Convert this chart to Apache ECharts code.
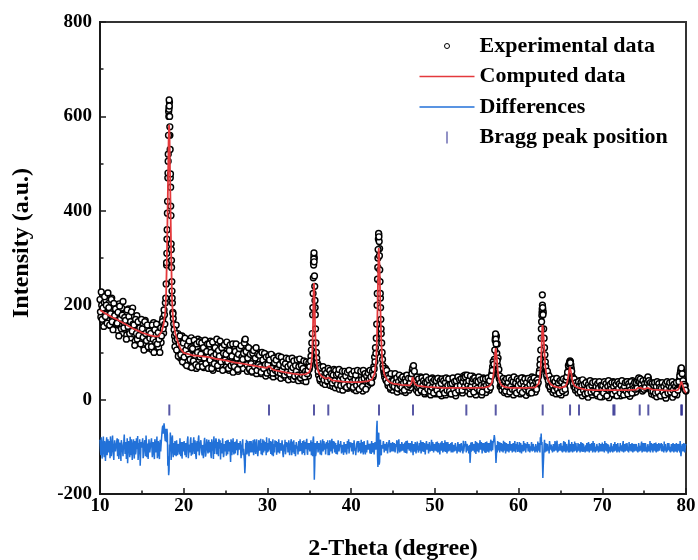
<!DOCTYPE html>
<html>
<head>
<meta charset="utf-8">
<script src="https://cdn.jsdelivr.net/npm/echarts@6/dist/echarts.min.js"></script>
<style>
html,body{margin:0;padding:0;background:#fff;}
#chart{width:698px;height:560px;}
</style>
</head>
<body>
<div id="chart"></div>
<script>
// ---- data ----
const xMin = 10, xMax = 80, xInterval = 10;
const yMin = -200, yMax = 800, yInterval = 200;

// experimental data, sampled every 0.1 degree from 10.00 to 80.00
const expStart = 10, expStep = 0.1;
const expIntensity = [
212,175,200,223,163,206,181,210,166,195,
168,205,157,188,215,170,160,197,183,150,
190,147,176,203,156,169,194,141,181,163,
149,183,137,170,192,143,158,131,176,194,
139,166,124,156,178,131,149,121,161,144,
127,159,113,146,168,119,149,134,109,157,
121,149,106,139,163,114,137,103,153,127,
111,144,159,121,149,172,141,180,205,245,
340,470,610,630,470,330,230,185,160,135,
125,158,110,140,98,130,88,121,135,84,
112,128,76,101,125,83,118,70,106,131,
88,115,72,123,97,66,110,128,80,102,
125,75,98,117,68,104,122,81,93,114,
70,108,124,79,97,62,113,88,119,74,
101,117,66,92,112,71,99,118,64,95,
110,70,96,113,62,88,107,75,101,58,
93,110,68,85,104,60,97,112,71,82,
100,66,108,126,115,88,60,95,104,63,
90,106,58,82,99,65,93,55,87,100,
62,84,97,55,78,92,60,86,50,81,
95,58,88,75,52,80,93,48,71,85,
55,77,89,50,68,82,45,73,86,52,
70,84,47,63,79,42,67,81,49,60,
76,43,62,80,48,58,73,40,66,78,
45,61,75,40,57,70,38,64,77,50,
65,74,92,120,180,290,300,195,120,88,
70,52,64,40,58,66,35,52,60,32,
48,62,38,58,55,30,50,60,28,45,
56,25,44,60,30,47,22,52,58,35,
20,48,57,28,42,55,24,46,33,53,
27,44,58,22,50,36,19,48,56,30,
45,25,52,40,18,55,33,47,24,58,
30,50,38,60,35,55,48,70,90,110,
130,200,300,350,320,215,140,100,72,60,
48,66,40,55,30,50,44,22,48,38,
20,45,52,25,40,16,48,35,22,50,
37,18,45,28,50,15,40,33,47,20,
42,25,48,62,70,55,35,45,20,40,
15,42,30,48,18,37,25,45,12,38,
28,44,14,35,40,10,33,46,20,30,
42,12,37,25,45,18,30,40,8,35,
22,44,28,10,38,33,15,41,26,36,
12,40,30,20,43,8,35,27,45,17,
38,22,47,14,50,32,52,25,44,18,
48,30,12,45,36,50,20,34,42,10,
30,44,18,36,25,42,10,32,46,22,
37,15,40,28,45,20,38,48,55,70,
62,85,125,136,98,72,52,44,28,40,
20,38,44,15,32,26,41,12,35,22,
40,18,30,45,10,36,24,42,16,33,
28,43,12,37,25,46,18,31,40,9,
35,22,44,14,38,27,48,20,33,41,
16,40,30,45,50,62,85,130,185,190,
150,110,80,62,48,55,30,45,22,38,
42,15,33,26,40,12,30,37,18,28,
35,10,28,40,20,32,15,38,45,55,
68,78,80,66,50,40,28,38,20,32,
36,14,30,40,18,27,8,34,22,38,
12,30,25,5,34,18,28,38,10,24,
32,15,26,36,8,30,20,35,14,27,
6,33,22,28,12,36,18,30,4,26,
34,16,24,38,10,29,21,35,13,31,
20,37,8,27,32,15,36,24,11,30,
38,18,26,7,33,22,40,14,28,35,
16,30,38,42,45,40,28,35,18,30,
22,38,28,40,44,46,34,22,30,12,
27,35,10,24,32,6,28,20,36,15,
30,8,25,34,18,29,3,26,33,14,
24,31,12,28,5,22,35,16,27,10,
25,32,42,55,66,62,45,38,24,30,
18
];

// experimental data between those, every 0.1 degree from 10.05 to 79.95
const expStartB = 10.05;
const expIntensityB = [
186,228,170,194,155,218,176,200,162,226,
195,158,182,212,165,148,204,178,192,160,
162,185,135,198,172,150,179,208,152,174,
168,128,190,155,176,140,165,186,145,160,
158,115,170,140,128,165,136,152,118,170,
150,132,105,165,140,125,158,112,145,130,
140,112,158,128,100,148,122,160,118,142,
128,100,152,135,165,150,190,160,215,285,
395,520,620,560,410,280,205,172,148,112,
140,105,128,92,118,135,95,112,80,120,
90,130,105,72,115,96,124,85,110,68,
108,82,126,94,74,118,100,70,122,90,
96,120,70,110,88,126,76,102,118,66,
118,84,100,66,122,92,76,110,96,128,
72,104,92,124,80,110,62,98,116,84,
96,122,80,66,104,116,72,92,118,76,
70,102,118,88,64,96,108,76,114,90,
85,98,120,128,102,74,88,110,66,96,
76,60,98,104,70,88,110,62,96,74,
94,70,58,100,84,66,98,74,90,56,
74,92,84,60,96,66,56,88,78,62,
84,64,58,92,74,56,90,62,80,70,
52,76,88,58,70,86,54,74,62,88,
68,82,50,72,60,84,52,70,86,46,
72,52,66,82,48,60,80,55,62,78,
70,82,105,140,225,305,240,150,100,78,
60,72,44,68,55,48,70,42,62,50,
56,40,66,48,62,42,55,35,52,64,
40,62,52,32,55,64,42,30,50,60,
44,32,60,50,26,58,40,62,30,48,
54,38,26,60,42,52,30,62,40,22,
34,60,42,28,62,45,55,22,50,40,
56,42,62,48,36,60,52,65,80,98,
160,255,340,335,250,170,120,85,66,55,
58,42,62,36,52,46,26,55,40,30,
40,28,55,36,46,24,38,52,30,44,
26,48,35,20,44,38,52,28,45,32,
35,45,55,66,72,60,42,30,48,26,
44,28,35,20,46,30,40,16,36,48,
36,22,42,30,18,44,26,38,14,42,
28,40,20,45,30,12,40,34,44,20,
40,14,36,46,20,30,44,18,32,12,
34,46,22,38,14,40,28,48,20,42,
30,44,20,38,46,28,48,36,52,30,
40,24,50,28,38,44,16,46,30,40,
24,38,48,20,42,30,16,44,28,36,
44,30,22,46,34,40,26,50,62,80,
75,105,130,134,118,88,64,50,38,30,
30,45,26,40,18,44,28,36,46,16,
28,42,22,38,48,20,35,14,44,30,
40,20,34,46,15,38,28,44,22,36,
26,45,18,32,42,14,38,30,46,24,
38,22,42,36,56,74,105,165,200,185,
130,95,70,52,60,40,50,28,42,34,
30,44,20,38,28,45,22,35,14,40,
24,38,18,44,30,22,42,48,58,72,
76,82,74,60,46,34,44,26,36,30,
22,38,28,16,36,30,42,20,32,12,
36,22,14,32,26,40,16,30,36,20,
18,38,28,12,34,24,38,6,30,22,
30,14,38,24,34,8,28,40,20,32,
22,36,12,28,36,18,32,8,38,24,
34,14,30,40,22,10,28,36,18,38,
12,34,28,20,38,14,30,24,36,22,
36,24,40,46,38,44,32,24,40,22,
34,26,42,36,48,40,28,36,18,34,
18,30,36,14,28,38,16,34,26,8,
24,36,16,28,10,34,22,38,14,30,
36,16,26,38,20,32,12,28,36,22,
20,38,50,60,64,55,40,32,28,20
];

// extra experimental points recorded on the steep flanks of the peaks [2-theta, intensity]
const expPeakPoints = [
[17.95,290],[17.98,310],[18.02,360],[18.07,420],[18.12,480],[18.14,505],[18.18,560],
[18.22,600],[18.24,615],[18.26,635],[18.28,622],[18.32,600],[18.34,578],[18.38,530],[18.42,478],
[18.44,450],[18.48,390],[18.52,318],[18.54,295],[18.58,250],[18.62,215],
[18.72,182],
[35.42,195],[35.48,258],[35.52,285],[35.54,298],[35.56,311],[35.58,292],[35.62,262],
[35.68,210],[35.72,180],
[43.12,225],[43.18,280],[43.22,318],[43.28,352],[43.32,345],
[43.38,305],[43.42,275],[43.48,225],[43.52,195],[43.58,150],
[57.22,130],[57.25,139],[57.28,128],[57.32,118],[57.45,82],
[62.72,150],[62.78,178],[62.82,192],[62.84,222],[62.88,195],[62.92,180],
[66.12,80],[66.18,78],
[79.45,67]
];

// computed (refined) profile [2-theta, intensity]
const calcPoints = [
[10,190],[10.5,184],[11,179],[11.5,174],[12,170],[12.5,165],[13,160],[13.5,155],[14,150],[14.5,146],[15,142],
[15.5,139],[16,136],[16.5,134],[17,134],[17.2,138],[17.4,146],[17.6,160],[17.8,185],[17.9,225],[18.0,310],
[18.1,430],[18.2,555],[18.25,582],[18.3,565],[18.4,440],[18.5,310],[18.6,215],[18.7,178],[18.8,160],[19.0,140],
[19.3,122],[19.6,108],[20,99],[21,94],[22,92],[23,90],[24,86],[25,83],[26,79],[27,76],[28,73],[29,70],[29.9,67],
[30.1,68],[30.2,71],[30.3,67],[30.6,64],[31,62],[32,58],[33,55],[34,53],[34.6,54],[35.0,58],[35.2,70],[35.35,95],
[35.45,160],[35.5,215],[35.55,247],[35.6,232],[35.65,190],[35.7,150],[35.8,100],[35.9,75],[36.0,64],[36.2,55],
[36.5,49],[37.0,44],[37.2,45],[37.3,47],[37.4,44],[37.7,41],[38,40],[39,38],[40,37],[41,37],[42,39],[42.5,43],
[42.8,55],[43.0,85],[43.1,140],[43.2,240],[43.27,310],[43.3,321],[43.33,318],[43.4,280],[43.5,190],[43.6,125],
[43.7,88],[43.8,67],[44.0,52],[44.3,42],[44.6,37],[45,34],[46,31],[47,30],[47.2,35],[47.35,48],[47.45,44],
[47.6,33],[48,29],[49,27],[50,26],[51,25],[52,25],[53,25],[54,25],[55,25],[56,26],[56.5,28],[56.8,35],[57.0,52],
[57.1,72],[57.2,98],[57.27,109],[57.32,106],[57.4,88],[57.5,64],[57.6,48],[57.8,35],[58.0,30],[58.3,27],[59,25],
[60,25],[61,25],[62,26],[62.4,34],[62.55,48],[62.65,70],[62.75,110],[62.82,150],[62.86,158],[62.92,150],[63.0,130],
[63.1,96],[63.2,70],[63.3,55],[63.5,42],[63.8,33],[64.2,28],[65,25],[65.6,28],[65.8,36],[65.95,50],[66.05,62],
[66.13,69],[66.2,66],[66.3,55],[66.4,43],[66.5,35],[66.7,29],[67.0,26],[67.2,27],[67.4,24],[68,21],[69,20],[70,20],
[71,20],[72,20],[73,20],[74,21],[74.3,25],[74.45,29],[74.6,25],[75.0,22],[75.4,25],[75.5,26],[75.65,23],[76,21],
[77,20],[78,19],[79,20],[79.2,25],[79.35,33],[79.45,38],[79.55,35],[79.7,25],[79.85,18],[80,14]
];

// difference curve (offset), every 0.1 degree from 10.00 to 80.00
const diffStart = 10, diffStep = 0.1;
const diffIntensity = [
-85,-118,-92,-110,-78,-122,-96,-105,-80,-115,
-100,-88,-124,-94,-108,-76,-117,-98,-86,-112,
-93,-120,-84,-106,-97,-130,-82,-110,-95,-74,
-115,-90,-104,-135,-88,-100,-79,-118,-96,-108,
-84,-125,-98,-110,-92,-77,-113,-101,-140,-90,
-106,-82,-119,-95,-108,-76,-122,-93,-104,-87,
-115,-96,-80,-110,-100,-126,-89,-105,-78,-113,
-98,-126,-85,-107,-70,-55,-74,-60,-88,-66,
-62,-140,-160,-95,-70,-128,-82,-110,-92,-118,
-96,-120,-84,-108,-92,-116,-80,-104,-125,-90,
-110,-86,-101,-122,-94,-78,-113,-99,-87,-119,
-92,-107,-80,-115,-98,-126,-88,-103,-76,-111,
-100,-84,-118,-93,-109,-81,-121,-97,-88,-114,
-85,-106,-95,-124,-90,-102,-78,-115,-99,-87,
-112,-94,-83,-108,-127,-92,-100,-80,-117,-96,
-88,-119,-101,-85,-110,-95,-132,-90,-105,-82,
-116,-98,-89,-107,-84,-120,-94,-103,-86,-111,
-97,-118,-108,-156,-92,-85,-110,-96,-120,-88,
-102,-90,-113,-86,-106,-97,-115,-84,-100,-109,
-91,-110,-83,-104,-118,-95,-87,-108,-99,-80,
-112,-93,-82,-106,-115,-89,-101,-120,-94,-86,
-104,-117,-90,-98,-84,-111,-96,-107,-88,-122,
-95,-85,-110,-100,-91,-114,-82,-106,-97,-118,
-89,-103,-115,-92,-108,-86,-99,-120,-94,-84,
-109,-96,-88,-113,-101,-90,-105,-83,-117,-98,
-92,-110,-86,-104,-120,-78,-170,-92,-115,-100,
-88,-108,-97,-116,-90,-103,-84,-111,-99,-93,
-112,-95,-86,-107,-118,-91,-100,-83,-110,-97,
-89,-104,-115,-93,-98,-85,-112,-100,-90,-108,
-96,-117,-87,-105,-92,-110,-99,-84,-113,-101,
-91,-106,-97,-114,-86,-103,-120,-93,-100,-88,
-109,-95,-85,-112,-98,-104,-90,-116,-94,-102,
-87,-110,-99,-93,-115,-84,-106,-97,-112,-90,
-100,-45,-143,-70,-132,-85,-118,-92,-108,-96,
-113,-90,-104,-86,-111,-99,-93,-107,-88,-102,
-95,-109,-89,-115,-100,-92,-106,-84,-112,-97,
-103,-88,-110,-96,-91,-113,-99,-87,-105,-94,
-108,-90,-100,-85,-118,-96,-104,-92,-110,-89,
-101,-114,-93,-86,-107,-98,-90,-111,-95,-103,
-88,-106,-99,-112,-92,-100,-85,-109,-97,-114,
-94,-102,-110,-89,-105,-96,-116,-91,-100,-87,
-108,-95,-86,-111,-99,-104,-90,-113,-97,-92,
-103,-88,-115,-94,-107,-90,-100,-112,-86,-105,
-96,-110,-92,-101,-87,-114,-99,-93,-108,-90,
-98,-112,-134,-91,-104,-88,-110,-97,-102,-115,
-90,-106,-95,-111,-86,-103,-99,-92,-108,-94,
-101,-113,-89,-105,-97,-92,-110,-85,-100,-107,
-93,-75,-82,-134,-96,-88,-108,-99,-91,-104,
-110,-95,-87,-103,-98,-115,-90,-106,-94,-100,
-89,-108,-97,-112,-92,-101,-86,-105,-99,-111,
-96,-90,-107,-100,-114,-93,-88,-104,-97,-109,
-102,-87,-111,-95,-99,-106,-91,-113,-94,-100,
-108,-93,-98,-89,-110,-96,-80,-72,-90,-166,
-120,-85,-104,-97,-110,-92,-101,-88,-106,-95,
-99,-112,-90,-103,-94,-108,-87,-100,-111,-93,
-105,-91,-98,-110,-88,-102,-95,-107,-92,-100,
-85,-112,-94,-103,-90,-106,-98,-89,-109,-96,
-101,-92,-108,-95,-99,-87,-104,-111,-93,-100,
-97,-106,-89,-102,-95,-110,-91,-103,-98,-88,
-107,-94,-100,-112,-90,-99,-104,-93,-108,-96,
-91,-103,-97,-88,-109,-95,-101,-114,-92,-100,
-105,-93,-99,-110,-96,-90,-107,-98,-102,-89,
-100,-111,-94,-97,-104,-88,-106,-99,-93,-109,
-95,-102,-90,-108,-97,-103,-92,-110,-99,-94,
-106,-91,-100,-113,-95,-98,-104,-89,-107,-96,
-92,-105,-97,-101,-110,-94,-99,-88,-103,-108,
-98,-93,-106,-100,-91,-109,-96,-102,-95,-104,
-101,-110,-94,-99,-89,-105,-97,-103,-92,-107,
-96,-100,-108,-93,-102,-97,-111,-90,-104,-99,
-94,-106,-98,-88,-120,-100,-95,-109,-92,-103,
-97
];

// difference curve between those, every 0.1 degree from 10.05 to 79.95
const diffStartB = 10.05;
const diffIntensityB = [
-105,-80,-125,-96,-112,-88,-130,-92,-118,-84,
-112,-96,-78,-120,-90,-104,-128,-86,-110,-95,
-82,-108,-126,-91,-115,-86,-104,-120,-88,-102,
-98,-126,-82,-112,-92,-122,-106,-84,-128,-94,
-110,-88,-116,-82,-105,-128,-92,-84,-118,-102,
-90,-124,-98,-86,-120,-92,-108,-126,-84,-112,
-95,-82,-122,-90,-115,-84,-112,-96,-124,-88,
-118,-92,-110,-82,-60,-72,-50,-80,-62,-90,
-75,-120,-150,-110,-88,-104,-76,-122,-100,-88,
-112,-86,-118,-94,-104,-82,-120,-90,-108,-98,
-88,-118,-92,-106,-84,-124,-95,-112,-80,-102,
-116,-90,-104,-86,-120,-94,-110,-82,-118,-96,
-86,-112,-96,-124,-88,-102,-116,-84,-106,-92,
-112,-90,-118,-84,-108,-126,-92,-100,-82,-116,
-90,-120,-104,-86,-100,-114,-82,-122,-94,-110,
-104,-86,-116,-96,-90,-112,-84,-118,-92,-108,
-90,-114,-102,-84,-118,-92,-106,-88,-124,-98,
-84,-104,-130,-140,-100,-116,-88,-106,-94,-112,
-88,-112,-94,-118,-84,-108,-92,-104,-120,-86,
-108,-88,-116,-92,-84,-112,-100,-90,-118,-104,
-92,-110,-100,-88,-96,-118,-84,-106,-112,-100,
-88,-96,-112,-84,-114,-92,-108,-86,-116,-100,
-110,-116,-90,-104,-112,-86,-118,-94,-84,-106,
-112,-86,-96,-120,-90,-104,-116,-88,-110,-100,
-92,-116,-104,-86,-118,-96,-88,-112,-92,-106,
-110,-96,-118,-90,-84,-100,-140,-120,-96,-88,
-112,-92,-104,-86,-118,-96,-110,-88,-106,-116,
-90,-104,-118,-92,-86,-110,-96,-114,-88,-104,
-112,-92,-96,-116,-86,-110,-94,-88,-114,-96,
-108,-90,-112,-94,-116,-88,-104,-114,-90,-96,
-110,-92,-116,-86,-108,-118,-94,-88,-112,-104,
-92,-114,-106,-90,-116,-88,-110,-96,-112,-86,
-106,-94,-114,-108,-88,-112,-92,-116,-90,-106,
-60,-120,-100,-138,-90,-110,-96,-104,-88,-112,
-94,-108,-90,-114,-96,-86,-112,-92,-110,-90,
-110,-92,-112,-94,-86,-114,-90,-104,-94,-110,
-90,-108,-94,-112,-104,-88,-114,-96,-92,-108,
-92,-112,-88,-106,-94,-110,-90,-114,-94,-104,
-112,-92,-108,-114,-90,-110,-104,-92,-116,-94,
-106,-94,-114,-90,-110,-108,-96,-90,-112,-94,
-108,-90,-94,-112,-92,-110,-96,-108,-88,-112,
-92,-110,-106,-90,-114,-90,-110,-94,-108,-112,
-90,-112,-96,-110,-92,-108,-114,-90,-110,-94,
-112,-92,-108,-114,-110,-94,-88,-112,-94,-108,
-114,-96,-120,-110,-90,-108,-94,-112,-88,-96,
-110,-92,-112,-94,-106,-90,-114,-108,-92,-112,
-90,-94,-110,-92,-112,-108,-90,-110,-88,-92,
-84,-82,-110,-120,-112,-94,-90,-112,-108,-92,
-94,-112,-108,-90,-114,-92,-110,-94,-112,-88,
-108,-94,-112,-92,-110,-88,-112,-94,-90,-96,
-110,-112,-92,-114,-96,-110,-108,-92,-112,-94,
-90,-110,-94,-112,-108,-90,-110,-94,-108,-112,
-94,-110,-112,-108,-92,-112,-88,-96,-130,-140,
-96,-112,-92,-110,-94,-108,-114,-92,-110,-108,
-112,-94,-110,-88,-108,-92,-112,-110,-94,-108,
-92,-110,-112,-94,-110,-90,-112,-94,-108,-112,
-96,-94,-110,-90,-112,-94,-110,-108,-92,-112,
-110,-108,-94,-112,-90,-110,-92,-94,-110,-112,
-110,-92,-110,-90,-112,-94,-108,-92,-112,-110,
-92,-112,-110,-94,-108,-112,-92,-110,-94,-110,
-110,-94,-112,-108,-92,-110,-94,-96,-110,-112,
-92,-110,-112,-94,-110,-108,-94,-112,-92,-110,
-112,-92,-108,-110,-94,-112,-94,-110,-108,-92,
-110,-112,-108,-94,-110,-92,-112,-94,-110,-108,
-94,-110,-112,-92,-110,-108,-94,-112,-92,-110,
-110,-92,-110,-112,-94,-110,-108,-112,-92,-94,
-112,-108,-92,-110,-112,-94,-110,-92,-108,-94,
-92,-94,-110,-112,-108,-94,-112,-110,-94,-92,
-110,-112,-94,-110,-92,-112,-94,-110,-92,-112,
-108,-94,-112,-110,-120,-94,-110,-92,-112,-94
];

// Bragg reflection positions (2-theta) and the level at which their ticks sit
const braggPositions = [18.28,30.19,35.56,37.27,43.33,47.39,53.76,57.27,62.88,66.15,67.22,71.32,71.46,74.47,75.50,79.42,79.52];
const braggLevel = -22;

const seriesNames = ['Experimental data','Computed data','Differences','Bragg peak position'];

// ---- build ----
const FONT = "'Liberation Serif','Times New Roman',serif";
const r2 = v => +v.toFixed(2);
const expData = expIntensity.map((v, i) => [r2(expStart + i * expStep), v])
  .concat(expIntensityB.map((v, i) => [r2(expStartB + i * expStep), v]))
  .concat(expPeakPoints);
const diffData = [];
diffIntensity.forEach((v, i) => {
  diffData.push([r2(diffStart + i * diffStep), v]);
  if (i < diffIntensityB.length) diffData.push([r2(diffStartB + i * diffStep), diffIntensityB[i]]);
});
const braggData = braggPositions.map(p => [p, braggLevel]);

const chart = echarts.init(document.getElementById('chart'), null, {renderer: 'canvas'});

const axisCommon = {
  axisLine: {show: true, onZero: false, lineStyle: {color: '#1a1a1a', width: 2}},
  axisTick: {show: true, inside: true, length: 6, lineStyle: {color: '#1a1a1a', width: 1.5}},
  minorTick: {show: true, splitNumber: 2, length: 3.5, lineStyle: {color: '#1a1a1a', width: 1.5}},
  splitLine: {show: false},
  minorSplitLine: {show: false},
  axisLabel: {color: '#000', fontFamily: FONT, fontWeight: 'bold', fontSize: 19},
  nameTextStyle: {color: '#000', fontFamily: FONT, fontWeight: 'bold', fontSize: 24}
};

const option = {
  animation: false,
  backgroundColor: '#ffffff',
  grid: {left: 100, right: 12, top: 22, bottom: 66, containLabel: false, outerBoundsMode: 'none',
    show: true, borderColor: '#333', borderWidth: 2, backgroundColor: 'transparent'},
  legend: {
    orient: 'vertical',
    left: 414,
    top: 30,
    itemWidth: 55,
    itemHeight: 12,
    itemGap: 8.5,
    symbolKeepAspect: true,
    textStyle: {color: '#000', fontFamily: FONT, fontWeight: 'bold', fontSize: 22},
    data: [
      {name: seriesNames[0], icon: 'path://M0,0 M55,12 M25,6 A2.5,2.5 0 1 1 30,6 A2.5,2.5 0 1 1 25,6 Z',
        itemStyle: {color: '#fff', borderColor: '#000', borderWidth: 1}},
      {name: seriesNames[1], icon: 'path://M0,0 M55,12 M0,5.25 L55,5.25 L55,6.75 L0,6.75 Z',
        itemStyle: {color: '#e4393c', borderWidth: 0}},
      {name: seriesNames[2], icon: 'path://M0,0 M55,12 M0,5.25 L55,5.25 L55,6.75 L0,6.75 Z',
        itemStyle: {color: '#2271d8', borderWidth: 0}},
      {name: seriesNames[3], icon: 'path://M0,0 M55,12 M26.75,0 L28.25,0 L28.25,12 L26.75,12 Z',
        itemStyle: {color: '#4a4aa0', borderWidth: 0}}
    ]
  },
  xAxis: Object.assign({}, axisCommon, {
    type: 'value', min: xMin, max: xMax, interval: xInterval,
    name: '2-Theta (degree)', nameLocation: 'middle', nameGap: 43,
    axisLabel: Object.assign({}, axisCommon.axisLabel, {margin: 3})
  }),
  yAxis: Object.assign({}, axisCommon, {
    type: 'value', min: yMin, max: yMax, interval: yInterval,
    name: 'Intensity (a.u.)', nameLocation: 'middle', nameGap: 66,
    nameTextStyle: Object.assign({}, axisCommon.nameTextStyle, {padding: [0, 0, 0, 30]}),
    axisLabel: Object.assign({}, axisCommon.axisLabel, {margin: 8})
  }),
  series: [
    {
      name: seriesNames[0], type: 'scatter', data: expData, symbol: 'circle', symbolSize: 5.8,
      itemStyle: {color: '#ffffff', borderColor: '#000000', borderWidth: 1.45, opacity: 1},
      large: false, largeThreshold: 100000, z: 2, silent: true
    },
    {
      name: seriesNames[1], type: 'line', data: calcPoints, symbol: 'none', smooth: false,
      color: '#e4393c', lineStyle: {color: '#e4393c', width: 1.8}, z: 3, silent: true
    },
    {
      name: seriesNames[2], type: 'line', data: diffData, symbol: 'none',
      color: '#2271d8', lineStyle: {color: '#2271d8', width: 1.5}, z: 3, silent: true
    },
    {
      name: seriesNames[3], type: 'scatter', data: braggData, symbol: 'rect', symbolSize: [2, 11],
      itemStyle: {color: '#2e2e8e'}, z: 4, silent: true
    }
  ]
};
chart.setOption(option);
</script>
</body>
</html>
